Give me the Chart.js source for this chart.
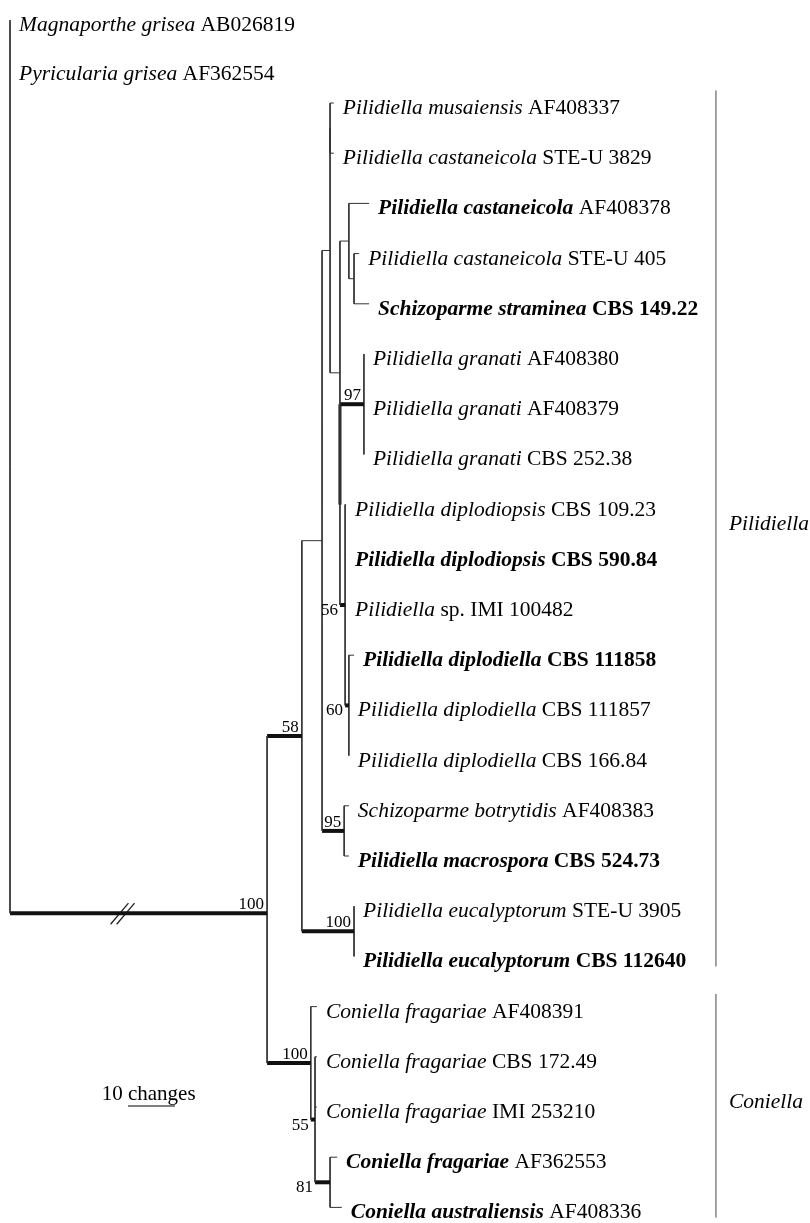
<!DOCTYPE html>
<html>
<head>
<meta charset="utf-8">
<script src="https://cdn.jsdelivr.net/npm/chart.js@4.4.0/dist/chart.umd.min.js"></script>
<style>
html, body { margin: 0; padding: 0; background: #fff; }
#wrap { width: 810px; height: 1223px; }
</style>
</head>
<body>
<div id="wrap"><canvas id="tree" width="810" height="1223"></canvas></div>
<script>
// ---- tips, top to bottom ----
const tipNames = [
  'Magnaporthe grisea', 'Pyricularia grisea',
  'Pilidiella musaiensis', 'Pilidiella castaneicola', 'Pilidiella castaneicola',
  'Pilidiella castaneicola', 'Schizoparme straminea',
  'Pilidiella granati', 'Pilidiella granati', 'Pilidiella granati',
  'Pilidiella diplodiopsis', 'Pilidiella diplodiopsis', 'Pilidiella',
  'Pilidiella diplodiella', 'Pilidiella diplodiella', 'Pilidiella diplodiella',
  'Schizoparme botrytidis', 'Pilidiella macrospora',
  'Pilidiella eucalyptorum', 'Pilidiella eucalyptorum',
  'Coniella fragariae', 'Coniella fragariae', 'Coniella fragariae',
  'Coniella fragariae', 'Coniella australiensis'
];
const tipStrains = [
  'AB026819', 'AF362554',
  'AF408337', 'STE-U 3829', 'AF408378', 'STE-U 405', 'CBS 149.22',
  'AF408380', 'AF408379', 'CBS 252.38',
  'CBS 109.23', 'CBS 590.84', 'sp. IMI 100482',
  'CBS 111858', 'CBS 111857', 'CBS 166.84',
  'AF408383', 'CBS 524.73',
  'STE-U 3905', 'CBS 112640',
  'AF408391', 'CBS 172.49', 'IMI 253210', 'AF362553', 'AF408336'
];
// 0 = plain, 1 = name in bold, 2 = name and strain in bold
const tipType = [0, 0, 0, 0, 1, 0, 2, 0, 0, 0, 0, 2, 0, 2, 0, 0, 0, 2, 0, 2, 0, 0, 0, 1, 1];
const tipRow = [0.35, 1.32, 2, 3, 4, 5, 6, 7, 8, 9, 10, 11, 12, 13, 14, 15, 16, 17, 18, 19, 20, 21, 22, 23, 24];
// distance from root, in changes
const tipDepth = [0, 0, 68.9, 68.9, 76.4, 74.3, 76.4, 75.3, 75.3, 75.3, 71.5, 71.5, 71.5,
  73.2, 72.1, 72.1, 72.1, 72.1, 73.2, 73.2, 65.3, 65.3, 65.3, 69.6, 70.6];
const tipParent = ['R', 'R', 'M', 'M', 'C', 'D', 'D', 'G', 'G', 'G', 'N3', 'N3', 'N3',
  'DL', 'DL', 'DL', 'S95', 'S95', 'E', 'E', 'C1', 'C2', 'C2', 'C3', 'C3'];

// ---- internal nodes ----
const nodeIds     = ['R', 'I', 'P', 'A', 'B', 'M', 'N1', 'N2', 'C', 'D', 'G', 'N3', 'DL', 'S95', 'E', 'C1', 'C2', 'C3'];
const nodeDepth   = [0, 54.7, 62.1, 66.4, 68.1, 68.1, 70.2, 70.2, 72.1, 73.2, 75.3, 71.3, 72.1, 71.1, 73.2, 64.0, 64.9, 68.1];
const nodeParent  = [null, 'R', 'I', 'P', 'A', 'B', 'B', 'N1', 'N1', 'C', 'N2', 'N2', 'N3', 'A', 'P', 'I', 'C1', 'C2'];
const nodeSupport = [null, 100, 58, null, null, null, null, null, null, null, 97, 56, 60, 95, 100, 100, 55, 81];
const thickStem = ['G'];          // vertical stem also drawn thick
const rootJoinRow = 18.14;        // where the long root branch meets the ingroup
const rootBreak = 23.6;           // "//" on the root branch, changes

const cladeNames = ['Pilidiella', 'Coniella'];
const cladeFirst = [2, 20];
const cladeLast = [19, 24];

const scaleBarLength = 10;
const scaleBarLabel = ['10', 'changes'];

// ---- layout helpers ----
const PX_PER_CHANGE = 4.7;
const ROW_PX = 50.2;
const X_MIN = -10 / PX_PER_CHANGE, X_MAX = 800 / PX_PER_CHANGE;
const Y_MIN = 2 - 103 / ROW_PX, Y_MAX = 2 + 1120 / ROW_PX;
const THIN = '#333', THICK = '#111';
const SERIF = '"Liberation Serif", "Times New Roman", serif';

// compute node rows (midpoint of children)
const nodeIndex = {};
nodeIds.forEach((id, i) => nodeIndex[id] = i);
const children = {};
nodeIds.forEach(id => children[id] = []);
tipParent.forEach((p, i) => children[p].push({ kind: 'tip', i }));
nodeParent.forEach((p, i) => { if (p) children[p].push({ kind: 'node', i }); });

const nodeRow = [];
function rowOf(c) { return c.kind === 'tip' ? tipRow[c.i] : calcRow(c.i); }
function depthOf(c) { return c.kind === 'tip' ? tipDepth[c.i] : nodeDepth[c.i]; }
function calcRow(i) {
  if (nodeRow[i] !== undefined) return nodeRow[i];
  const rows = children[nodeIds[i]].map(rowOf);
  nodeRow[i] = (Math.min(...rows) + Math.max(...rows)) / 2;
  return nodeRow[i];
}
nodeIds.forEach((id, i) => calcRow(i));
// the ingroup node is attached lower than its midpoint in the original figure
function joinRow(c) {
  if (c.kind === 'node' && nodeIds[c.i] === 'I') return rootJoinRow;
  return rowOf(c);
}

// ---- line segments ----
const datasets = [];
function seg(x1, y1, x2, y2, w, color) {
  datasets.push({
    data: [{ x: x1, y: y1 }, { x: x2, y: y2 }],
    borderColor: color, borderWidth: w, showLine: true,
    pointRadius: 0, fill: false, borderCapStyle: 'butt'
  });
}

nodeIds.forEach((id, i) => {
  const kids = children[id];
  const rows = kids.map(joinRow);
  const x = nodeDepth[i];
  seg(x, Math.min(...rows), x, Math.max(...rows), 1, THIN);
  kids.forEach(c => {
    const r = joinRow(c);
    const d = depthOf(c);
    const thick = c.kind === 'node' && nodeSupport[c.i] !== null;
    if (c.kind === 'node' && thickStem.includes(nodeIds[c.i])) {
      seg(x, nodeRow[i], x, r, 3, THICK);
    }
    if (d > x) seg(x, r, d, r, thick ? 4 : 1, thick ? THICK : THIN);
  });
});

// "//" break on the root branch
[0, 1.3].forEach(dx => {
  seg(rootBreak - 2.2 + dx, rootJoinRow + 0.22, rootBreak + 1.6 + dx, rootJoinRow - 0.2, 1.3, '#222');
});

// clade bars
const CLADE_X = 150.2;
cladeNames.forEach((n, i) => {
  seg(CLADE_X, cladeFirst[i] - 0.25, CLADE_X, cladeLast[i] + 0.2, 1.2, '#666');
});

// scale bar
const SB_X = 25.1, SB_ROW = 21.98;
seg(SB_X, SB_ROW, SB_X + scaleBarLength, SB_ROW, 1.5, '#555');

// ---- text plugin ----
const treeText = {
  id: 'treeText',
  afterDatasetsDraw(chart) {
    const ctx = chart.ctx;
    const sx = chart.scales.x, sy = chart.scales.y;
    ctx.save();
    ctx.fillStyle = '#000';
    ctx.textBaseline = 'alphabetic';

    // tip labels
    tipNames.forEach((name, i) => {
      const x = sx.getPixelForValue(tipDepth[i]) + 9;
      const y = sy.getPixelForValue(tipRow[i]) + 11;
      ctx.textAlign = 'left';
      ctx.font = (tipType[i] >= 1 ? 'italic bold ' : 'italic ') + '21.5px ' + SERIF;
      ctx.fillText(name, x, y);
      const w = ctx.measureText(name).width;
      ctx.font = (tipType[i] === 2 ? 'bold ' : '') + '21.5px ' + SERIF;
      const sp = ctx.measureText(' ').width;
      ctx.fillText(tipStrains[i], x + w + sp, y);
    });

    // bootstrap values
    ctx.font = '17px ' + SERIF;
    ctx.textAlign = 'right';
    nodeIds.forEach((id, i) => {
      if (nodeSupport[i] === null) return;
      const p = nodeIndex[nodeParent[i]];
      const px0 = sx.getPixelForValue(nodeDepth[p]);
      const px1 = sx.getPixelForValue(nodeDepth[i]);
      const py = sy.getPixelForValue(id === 'I' ? rootJoinRow : nodeRow[i]);
      if (px1 - px0 < 18) {
        ctx.fillText(String(nodeSupport[i]), px0 - 2, py + 10);
      } else {
        ctx.fillText(String(nodeSupport[i]), px1 - 3, py - 4);
      }
    });

    // clade names
    ctx.textAlign = 'left';
    ctx.font = 'italic 21.5px ' + SERIF;
    cladeNames.forEach((n, i) => {
      const mid = ((cladeFirst[i] - 0.25) + (cladeLast[i] + 0.2)) / 2;
      ctx.fillText(n, sx.getPixelForValue(CLADE_X) + 13, sy.getPixelForValue(mid) + 2);
    });

    // scale bar label
    ctx.font = '21px ' + SERIF;
    const bx = sx.getPixelForValue(SB_X);
    const by = sy.getPixelForValue(SB_ROW) - 6;
    ctx.textAlign = 'right';
    ctx.fillText(scaleBarLabel[0] + ' ', bx, by);
    ctx.textAlign = 'left';
    ctx.fillText(scaleBarLabel[1], bx, by);
    ctx.restore();
  }
};

new Chart(document.getElementById('tree'), {
  type: 'scatter',
  data: { datasets },
  options: {
    responsive: false,
    animation: false,
    events: [],
    layout: { padding: 0 },
    plugins: { legend: { display: false }, tooltip: { enabled: false } },
    scales: {
      x: { type: 'linear', display: false, min: X_MIN, max: X_MAX },
      y: { type: 'linear', display: false, min: Y_MIN, max: Y_MAX, reverse: true }
    }
  },
  plugins: [treeText]
});
</script>
</body>
</html>
